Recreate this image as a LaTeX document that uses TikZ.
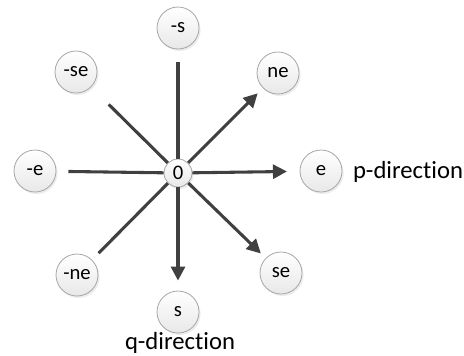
\documentclass[tikz,border=0pt]{standalone}
\usepackage{fontspec}
\setmainfont{Carlito}[Ligatures=NoCommon, RawFeature={-liga;-clig;-dlig}]
\usetikzlibrary{arrows.meta,shadows}
\definecolor{linegray}{HTML}{404040}
\definecolor{ringgray}{HTML}{A6A6A6}
\tikzset{
  dirnode/.style={circle, draw=ringgray, line width=0.6pt,
    top color=white, bottom color=black!9,
    minimum size=#1, inner sep=0pt, font=\fontsize{15.5}{16}\selectfont,
    drop shadow={shadow xshift=1.2pt, shadow yshift=-1.5pt, fill=black!12, opacity=0.6}},
  dirnode/.default=31.5pt,
  ray/.style={draw=linegray, line width=2.3pt},
  arrowray/.style={ray, -{Triangle[length=10.5pt, width=10.5pt]}},
  axislabel/.style={font=\fontsize{18.5}{20}\selectfont, inner sep=0pt}
}
\begin{document}
\begin{tikzpicture}[x=0.75pt, y=-0.75pt]
  \useasboundingbox (0,0) rectangle (464,355);

  % outer direction nodes
  \node[dirnode] (ms)  at (178,28)  {-s};
  \node[dirnode] (mse) at (76,72)   {-se};
  \node[dirnode] (ne)  at (278,73)  {ne};
  \node[dirnode] (me)  at (35,171)  {-e};
  \node[dirnode] (e)   at (321,171) {e};
  \node[dirnode] (mne) at (77,275)  {-ne};
  \node[dirnode] (se)  at (281,273) {se};
  \node[dirnode] (s)   at (178,312) {s};

  % origin
  \node[dirnode=21pt] (o) at (178,173) {0};

  % rays from the origin
  \draw[ray, shorten >=9.5pt]  (o) -- (ms);
  \draw[ray, shorten >=18.5pt] (o) -- (mse);
  \draw[ray, shorten >=9pt]    (o) -- (me);
  \draw[ray, shorten >=7pt]    (o) -- (mne);
  \draw[arrowray, shorten >=5.5pt] (o) -- (ne);
  \draw[arrowray, shorten >=9.5pt] (o) -- (e);
  \draw[arrowray, shorten >=5pt]   (o) -- (se);
  \draw[arrowray, shorten >=7.5pt] (o) -- (s);

  % axis labels
  \node[axislabel] (p) at (408,172) {p-direction};
  \node[axislabel] (q) at (180,343) {q-direction};
\end{tikzpicture}
\end{document}
